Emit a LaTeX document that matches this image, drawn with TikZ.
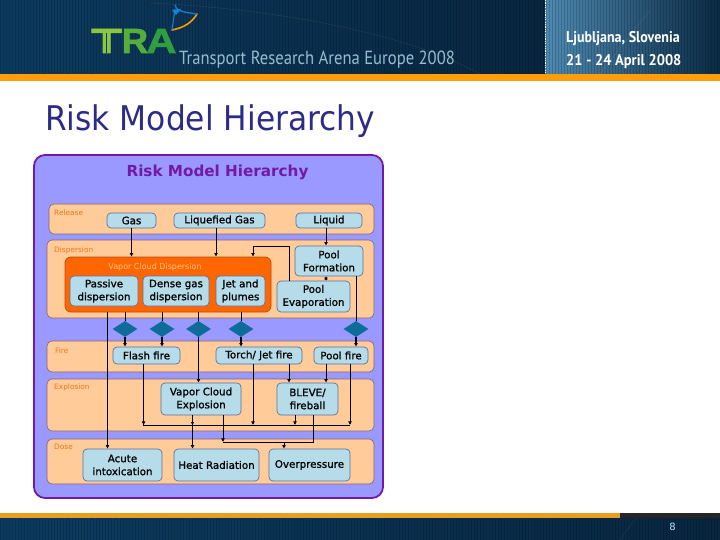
\documentclass[tikz,border=0pt]{standalone}
\usepackage{fontspec}
\usepackage{graphicx}
\setmainfont{DejaVu Sans}
\newfontfamily\dgmfont[FakeBold=1.0]{DejaVu Sans}
\newfontfamily\lblfont{DejaVu Sans}
\newfontfamily\hdrfont{PT Sans}
\newfontfamily\logofont[FakeBold=1.5]{Liberation Sans Bold}
\usetikzlibrary{arrows.meta,shapes.geometric,calc}
\definecolor{panelfill}{HTML}{9999FF}
\definecolor{panelline}{HTML}{7418A8}
\definecolor{bandfill}{HTML}{FFCC99}
\definecolor{bandline}{HTML}{8A6070}
\definecolor{boxfill}{HTML}{B5DCE8}
\definecolor{boxline}{HTML}{5A70A8}
\definecolor{vcdfill}{HTML}{FF6600}
\definecolor{vcdline}{HTML}{B84A10}
\definecolor{gemfill}{HTML}{0E6C98}
\definecolor{bandtext}{HTML}{E8761E}
\definecolor{titlecol}{HTML}{2C2B86}
\definecolor{navyA}{HTML}{0C3B60}
\definecolor{navyB}{HTML}{082640}
\definecolor{steelA}{HTML}{4E8AB2}
\definecolor{steelB}{HTML}{0A2A44}
\definecolor{barorange}{HTML}{FF9E0A}
\definecolor{footorange}{HTML}{E89E20}
\newcommand{\bx}[7][rbox]{%
  \pgfmathsetmacro{\cxx}{(#3+#5)/2}\pgfmathsetmacro{\cyy}{(#4+#6)/2}%
  \pgfmathsetmacro{\ww}{#5-#3}\pgfmathsetmacro{\hh}{#6-#4}%
  \node[#1,minimum width=\ww pt,minimum height=\hh pt] (#2) at (\cxx,\cyy) {#7};}
\tikzset{
  band/.style={draw=bandline,line width=.6pt,fill=bandfill,rounded corners=5pt,inner sep=0pt},
  rbox/.style={draw=boxline,line width=.7pt,fill=boxfill,rounded corners=4pt,inner sep=0pt,align=center,
     font=\dgmfont\fontsize{10.3}{13}\selectfont,text=black},
  vcdbox/.style={draw=vcdline,line width=.8pt,fill=vcdfill,rounded corners=6pt,inner sep=0pt},
  gem/.style={diamond,fill=gemfill,draw=none,aspect=1.56,minimum width=25pt,minimum height=16pt,inner sep=0pt},
  tag/.style={anchor=west,inner sep=0pt,text=bandtext,font=\lblfont\fontsize{7.4}{9}\selectfont},
  link/.style={draw=black,line width=.9pt},
  flow/.style={link,-{Latex[length=3.6pt,width=4pt]}},
}
\begin{document}
\begin{tikzpicture}[x=1pt,y=-1pt]
\useasboundingbox (0,0) rectangle (720,540);
\fill[white] (0,0) rectangle (720,540);
% header
\shade[left color=navyA,right color=navyB] (0,0) rectangle (545,74);
\shade[left color=steelA,right color=steelB] (545,0) rectangle (720,74);
\foreach \s in {0,3,...,720} \draw[black,opacity=.16,line width=.9pt] (\s,0) -- (\s,74);
\draw[white,opacity=.08,line width=.6pt] (150,3) .. controls (300,10) and (420,40) .. (480,74);
\draw[white,opacity=.08,line width=.6pt] (600,74) -- (650,10);
\draw[white,line width=1pt,dash pattern=on 1.2pt off 1.2pt] (545,0) -- (545,74);
\fill[barorange] (0,74) rectangle (720,81);
% logo
\node[inner sep=0pt,anchor=base west] (tra) at (91,53) {\logofont\fontsize{35}{35}\selectfont\scalebox{1.45}[1]{\color[HTML]{8CC63F}T}\kern-.5pt\scalebox{1.05}[1]{\color[HTML]{55AE3A}R}\kern-2pt\scalebox{1.2}[1]{\color[HTML]{2E9E3E}A}};
\draw[navyA,line width=1.7pt] (106.5,33.5) -- (106.5,53.5);
\draw[line width=1.6pt,color=orange!80!yellow,line cap=round] (197,14) .. controls (191,24) and (182,28) .. (172,30);
\draw[line width=1.4pt,color=cyan!60!blue,line cap=round] (175,5) .. controls (176,10) and (180,12) .. (197,14);
\draw[line width=1.2pt,color=cyan!60!blue] (175,9) -- (172,30);
\fill[cyan!70!blue] (172,10) -- (181,9) -- (176,15) -- cycle;
\node[inner sep=0pt,anchor=west,text=gray!60!cyan!70!white] (tagline) at (179,60) {\scalebox{.875}[1]{\hdrfont\fontsize{19}{19}\selectfont Transport Research Arena Europe 2008}};
\node[inner sep=0pt,anchor=west,text=white] (city) at (566,38.5) {\scalebox{.905}[1]{\hdrfont\bfseries\fontsize{15.5}{15.5}\selectfont Ljubljana, Slovenia}};
\node[inner sep=0pt,anchor=west,text=white] (dates) at (566,62) {\scalebox{.933}[1]{\hdrfont\bfseries\fontsize{15.5}{15.5}\selectfont 21 - 24 April 2008}};
% title
\node[inner sep=0pt,anchor=base west,text=titlecol] (title) at (45,131) {\scalebox{.92}[1]{\fontsize{34}{34}\selectfont Risk Model Hierarchy}};
% footer
\shade[left color=navyA,right color=navyB] (0,517) rectangle (720,540);
\foreach \s in {0,3,...,720} \draw[black,opacity=.16,line width=.9pt] (\s,517) -- (\s,540);
\fill[footorange] (0,513) rectangle (620,517.5);
\fill[black!85] (620,513) rectangle (720,518);
\draw[white,opacity=.07,line width=.6pt] (620,540) -- (636,518);
\node[inner sep=0pt,text=cyan!30!white] (pageno) at (672.5,527) {\fontsize{10}{10}\selectfont 8};
% panel
\draw[panelline,line width=1.8pt,fill=panelfill,rounded corners=11pt] (34,155) rectangle (383,498);
\node[inner sep=0pt,text=panelline] (heading) at (217.5,172.5) {\scalebox{1.0}[1]{\bfseries\fontsize{15.2}{15.2}\selectfont Risk Model Hierarchy}};
% bands
\bx[band]{release}{49}{204}{374}{234}{}
\bx[band]{dispersion}{47}{240}{374}{318}{}
\bx[band]{fire}{47}{341}{374}{372}{}
\bx[band]{explosion}{47}{379}{374}{431}{}
\bx[band]{dose}{47}{439}{374}{484}{}
\node[tag] (tgRelease) at (54,212.5) {Release};
\node[tag] (tgDispersion) at (54,250) {Dispersion};
\node[tag] (tgFire) at (55,351) {Fire};
\node[tag] (tgExplosion) at (54,387) {Explosion};
\node[tag] (tgDose) at (54,447) {Dose};
% vapor cloud group
\bx[vcdbox]{vcd}{65}{257}{271}{312}{}
\node[inner sep=0pt,text=orange!45!white,font=\lblfont\fontsize{8}{9}\selectfont] (vcdlabel) at (155,267) {Vapor Cloud Dispersion};
% boxes
\bx{gas}{107}{213}{156}{228}{Gas}
\bx{liqgas}{174}{213}{265}{228}{Liquefied Gas}
\bx{liquid}{296}{213}{362}{228}{Liquid}
\bx{poolform}{295}{246}{363}{276}{Pool\\Formation}
\bx{poolevap}{277}{281}{350}{312}{Pool\\Evaporation}
\bx{passive}{70}{276}{138}{306}{Passive\\dispersion}
\bx{dense}{143}{276}{209}{306}{Dense gas\\dispersion}
\bx{jet}{216}{276}{265}{306}{Jet and\\plumes}
\bx{flash}{113}{347}{180}{364}{Flash fire}
\bx{torch}{216}{347}{302}{364}{Torch/ Jet fire}
\bx{poolfire}{314}{347}{368}{364}{Pool fire}
\bx{vce}{161}{383}{241}{415}{Vapor Cloud\\Explosion}
\bx{bleve}{277}{383}{338}{415}{BLEVE/\\fireball}
\bx{acute}{83}{449}{162}{481}{Acute\\intoxication}
\bx{heat}{174}{449}{259}{481}{Heat Radiation}
\bx{over}{269}{449}{350}{481}{Overpressure}
% diamonds
\node[gem] (g1) at (125,329) {};
\node[gem] (g2) at (162,329) {};
\node[gem] (g3) at (198.5,329) {};
\node[gem] (g4) at (241,329) {};
\node[gem] (g5) at (356,329) {};
% routing columns
\coordinate (cA) at (107.5,0);
\coordinate (cB) at (143.6,0);
\coordinate (cC) at (192.5,0);
\coordinate (cD) at (216,0);
\coordinate (cE) at (223,0);
\coordinate (cF) at (253,0);
\coordinate (cG) at (284,0);
\coordinate (cH) at (289,0);
\coordinate (cI) at (295,0);
\coordinate (cJ) at (313,0);
\coordinate (cK) at (326,0);
\coordinate (cL) at (350,0);
\coordinate (busA) at (143.6,425);
\coordinate (busB) at (350,425);
\coordinate (busC) at (223,442);
\coordinate (busD) at (313,442);
\coordinate (hop) at (289,246);
\coordinate (hopB) at (253,246);
% connectors
\draw[flow] (gas.south) -- (vcd.north -| gas.south);
\draw[flow] (liqgas.south -| cD) -- (vcd.north -| cD);
\draw[flow] (liquid.south -| cK) -- (poolform.north -| cK);
\draw[{Latex[length=3pt,width=3.6pt]}-{Latex[length=3pt,width=3.6pt]},link] (poolform.south -| cK) -- (poolevap.north -| cK);
\draw[flow] (poolevap.north -| hop) -- (hop) -- (hopB) -- (vcd.north -| hopB);
\draw[flow] (vcd.south -| cA) -- (acute.north -| cA);
\draw[link] (vcd.south -| g1) -- (g1.north);
\draw[link] (vcd.south -| g2) -- (g2.north);
\draw[link] (vcd.south -| g3) -- (g3.north);
\draw[link] (vcd.south -| g4) -- (g4.north);
\draw[link] (poolform.south -| g5) -- (g5.north);
\draw[flow,line width=1.2pt] (g1.south) -- (flash.north -| g1);
\draw[flow,line width=1.2pt] (g2.south) -- (flash.north -| g2);
\draw[flow,line width=1.2pt] (g3.south) -- (vce.north -| g3);
\draw[flow,line width=1.2pt] (g4.south) -- (torch.north -| g4);
\draw[flow,line width=1.2pt] (g5.south) -- (poolfire.north -| g5);
\draw[link] (flash.south -| busA) -- (busA) -- (busB);
\draw[flow] (flash.south -| busA) -- (busA);
\draw[flow] (torch.south -| cF) -- (busA -| cF);
\draw[flow] (torch.south -| cH) -- (bleve.north -| cH);
\draw[flow] (poolfire.south -| cK) -- (bleve.north -| cK);
\draw[flow] (poolfire.south -| busB) -- (busB);
\draw[flow] (bleve.south -| cI) -- (busA -| cI);
\draw[link] (bleve.south -| busD) -- (busD) -- (busC);
\draw[flow] (vce.south -| busC) -- (busC);
\draw[flow] (busC -| cG) -- (over.north -| cG);
\draw[flow] (vce.south -| cC) -- (heat.north -| cC);
\draw[-{Latex[length=3pt,width=3.6pt]},link] (vce.south -| cC) -- (busA -| cC);
\end{tikzpicture}
\end{document}
